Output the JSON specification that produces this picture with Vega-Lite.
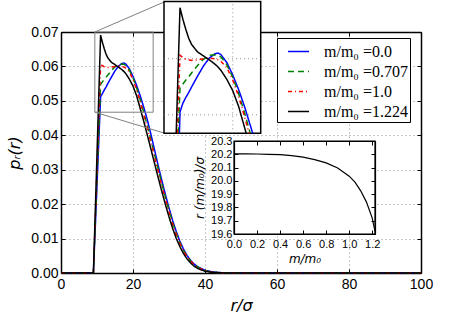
{
  "$schema": "https://vega.github.io/schema/vega-lite/v6.json",
  "width": 360,
  "height": 241,
  "autosize": "none",
  "padding": {"left": 61, "top": 32, "right": 48, "bottom": 40},
  "background": "white",
  "datasets": {
    "main": [
      {"r":0,"a":0,"b":0,"c":0,"d":0},
      {"r":9,"a":0,"b":0,"c":0,"d":0},
      {"r":10,"a":0.0256,"b":0.0274,"c":0.0303,"d":0.0346},
      {"r":11,"a":0.0512,"b":0.0548,"c":0.0606,"d":0.0691},
      {"r":11.5,"a":0.0521,"b":0.0555,"c":0.0602,"d":0.0670},
      {"r":12,"a":0.0531,"b":0.0562,"c":0.0599,"d":0.0652},
      {"r":12.5,"a":0.0540,"b":0.0568,"c":0.0598,"d":0.0636},
      {"r":13,"a":0.0550,"b":0.0575,"c":0.0597,"d":0.0625},
      {"r":14,"a":0.0569,"b":0.0588,"c":0.0598,"d":0.0612},
      {"r":15,"a":0.0587,"b":0.0599,"c":0.0600,"d":0.0605},
      {"r":16,"a":0.0601,"b":0.0606,"c":0.0601,"d":0.0598},
      {"r":17,"a":0.0609,"b":0.0607,"c":0.0600,"d":0.0590},
      {"r":17.5,"a":0.0610,"b":0.0606,"c":0.0598,"d":0.0585},
      {"r":18,"a":0.0607,"b":0.0603,"c":0.0595,"d":0.0579},
      {"r":19,"a":0.0593,"b":0.0589,"c":0.0584,"d":0.0563},
      {"r":20,"a":0.0571,"b":0.0567,"c":0.0562,"d":0.0543},
      {"r":21,"a":0.0545,"b":0.0538,"c":0.0533,"d":0.0515},
      {"r":22,"a":0.0515,"b":0.0504,"c":0.0497,"d":0.0478},
      {"r":23,"a":0.0481,"b":0.0466,"c":0.0459,"d":0.0440},
      {"r":24,"a":0.0444,"b":0.0427,"c":0.0420,"d":0.0400},
      {"r":25,"a":0.0402,"b":0.0386,"c":0.0379,"d":0.0359},
      {"r":26,"a":0.0357,"b":0.0344,"c":0.0337,"d":0.0318},
      {"r":27,"a":0.0312,"b":0.0302,"c":0.0295,"d":0.0277},
      {"r":28,"a":0.0269,"b":0.0260,"c":0.0254,"d":0.0237},
      {"r":29,"a":0.0228,"b":0.0220,"c":0.0214,"d":0.0199},
      {"r":30,"a":0.0189,"b":0.0182,"c":0.0177,"d":0.0163},
      {"r":31,"a":0.0153,"b":0.0147,"c":0.0142,"d":0.0130},
      {"r":32,"a":0.0121,"b":0.0116,"c":0.0112,"d":0.0101},
      {"r":33,"a":0.0093,"b":0.0089,"c":0.0086,"d":0.0077},
      {"r":34,"a":0.0070,"b":0.0067,"c":0.0065,"d":0.0057},
      {"r":35,"a":0.0051,"b":0.0049,"c":0.0047,"d":0.0041},
      {"r":36,"a":0.0037,"b":0.0035,"c":0.0034,"d":0.0029},
      {"r":37,"a":0.0026,"b":0.0025,"c":0.0024,"d":0.0020},
      {"r":38,"a":0.0018,"b":0.0017,"c":0.0016,"d":0.0013},
      {"r":40,"a":0.0008,"b":0.0007,"c":0.0007,"d":0.0005},
      {"r":42,"a":0.0003,"b":0.0003,"c":0.0002,"d":0.0002},
      {"r":45,"a":0.00005,"b":0.00004,"c":0.00003,"d":0.00003},
      {"r":50,"a":0,"b":0,"c":0,"d":0},
      {"r":100,"a":0,"b":0,"c":0,"d":0}
    ],
    "zoom": [
      {"m":"a","r":10.9,"p":0.0467},{"m":"a","r":11,"p":0.0505},{"m":"a","r":11.5,"p":0.0521},{"m":"a","r":12,"p":0.0531},{"m":"a","r":12.5,"p":0.0540},{"m":"a","r":13,"p":0.0550},{"m":"a","r":14,"p":0.0569},{"m":"a","r":15,"p":0.0587},{"m":"a","r":16,"p":0.0601},{"m":"a","r":17,"p":0.0609},{"m":"a","r":17.5,"p":0.0610},{"m":"a","r":18,"p":0.0607},{"m":"a","r":19,"p":0.0593},{"m":"a","r":20,"p":0.0571},{"m":"a","r":21,"p":0.0545},{"m":"a","r":22,"p":0.0515},{"m":"a","r":23,"p":0.0481},{"m":"a","r":23.4,"p":0.0467},
      {"m":"b","r":10.7,"p":0.0467},{"m":"b","r":11,"p":0.0548},{"m":"b","r":11.5,"p":0.0555},{"m":"b","r":12,"p":0.0562},{"m":"b","r":12.5,"p":0.0568},{"m":"b","r":13,"p":0.0575},{"m":"b","r":14,"p":0.0588},{"m":"b","r":15,"p":0.0599},{"m":"b","r":16,"p":0.0606},{"m":"b","r":17,"p":0.0607},{"m":"b","r":17.5,"p":0.0606},{"m":"b","r":18,"p":0.0603},{"m":"b","r":19,"p":0.0589},{"m":"b","r":20,"p":0.0567},{"m":"b","r":21,"p":0.0538},{"m":"b","r":22,"p":0.0504},{"m":"b","r":22.98,"p":0.0467},
      {"m":"c","r":10.54,"p":0.0467},{"m":"c","r":11,"p":0.0606},{"m":"c","r":11.5,"p":0.0602},{"m":"c","r":12,"p":0.0599},{"m":"c","r":12.5,"p":0.0598},{"m":"c","r":13,"p":0.0597},{"m":"c","r":14,"p":0.0598},{"m":"c","r":15,"p":0.0600},{"m":"c","r":16,"p":0.0601},{"m":"c","r":17,"p":0.0600},{"m":"c","r":17.5,"p":0.0598},{"m":"c","r":18,"p":0.0595},{"m":"c","r":19,"p":0.0584},{"m":"c","r":20,"p":0.0562},{"m":"c","r":21,"p":0.0533},{"m":"c","r":22,"p":0.0497},{"m":"c","r":22.79,"p":0.0467},
      {"m":"d","r":10.35,"p":0.0467},{"m":"d","r":11,"p":0.0691},{"m":"d","r":11.5,"p":0.0670},{"m":"d","r":12,"p":0.0652},{"m":"d","r":12.5,"p":0.0636},{"m":"d","r":13,"p":0.0625},{"m":"d","r":14,"p":0.0612},{"m":"d","r":15,"p":0.0605},{"m":"d","r":16,"p":0.0598},{"m":"d","r":17,"p":0.0590},{"m":"d","r":17.5,"p":0.0585},{"m":"d","r":18,"p":0.0579},{"m":"d","r":19,"p":0.0563},{"m":"d","r":20,"p":0.0543},{"m":"d","r":21,"p":0.0515},{"m":"d","r":22,"p":0.0478},{"m":"d","r":22.29,"p":0.0467}
    ],
    "shift": [
      {"m":0,"r":20.203},{"m":0.1,"r":20.203},{"m":0.2,"r":20.202},{"m":0.3,"r":20.2},{"m":0.4,"r":20.197},{"m":0.5,"r":20.19},{"m":0.6,"r":20.178},{"m":0.7,"r":20.16},{"m":0.8,"r":20.135},{"m":0.9,"r":20.097},{"m":1.0,"r":20.035},{"m":1.05,"r":19.99},{"m":1.1,"r":19.925},{"m":1.15,"r":19.84},{"m":1.2,"r":19.72},{"m":1.224,"r":19.62}
    ]
  },
  "config": {
    "view": {"stroke": null},
    "axis": {
      "domainColor": "black",
      "tickColor": "black",
      "labelColor": "black",
      "titleColor": "black",
      "gridColor": "#777777",
      "gridDash": [1, 3],
      "gridWidth": 0.8,
      "labelFont": "Liberation Sans",
      "titleFont": "DejaVu Sans",
      "titleFontWeight": "normal",
      "labelFlush": false,
      "labelOverlap": false
    },
    "legend": {
      "orient": "none",
      "legendX": 216,
      "legendY": 6,
      "direction": "vertical",
      "symbolType": "stroke",
      "symbolSize": 441,
      "symbolStrokeWidth": 1.5,
      "labelFont": "Liberation Serif",
      "labelFontSize": 16,
      "labelColor": "black",
      "padding": 2,
      "rowPadding": 0,
      "labelOffset": 14,
      "symbolOffset": 8,
      "strokeColor": "black",
      "fillColor": "white"
    }
  },
  "resolve": {
    "scale": {"x": "independent", "y": "independent"},
    "axis": {"x": "independent", "y": "independent"}
  },
  "layer": [
    {
      "data": {"values": [{}]},
      "mark": {"type": "point", "opacity": 0},
      "encoding": {
        "x": {"datum": 0, "type": "quantitative", "scale": {"domain": [0, 100], "nice": false},
          "axis": {"orient": "top", "values": [0, 20, 40, 60, 80, 100], "labels": false, "title": null, "grid": false, "tickSize": -4, "domainWidth": 1.5}},
        "y": {"datum": 0, "type": "quantitative", "scale": {"domain": [0, 0.07], "nice": false},
          "axis": {"orient": "right", "values": [0, 0.01, 0.02, 0.03, 0.04, 0.05, 0.06, 0.07], "labels": false, "title": null, "grid": false, "tickSize": -4, "domainWidth": 1.5}}
      }
    },
    {
      "data": {"name": "main"},
      "transform": [{"fold": ["a", "b", "c", "d"], "as": ["m", "p"]}],
      "mark": {"type": "line", "strokeWidth": 1.5},
      "encoding": {
        "x": {"field": "r", "type": "quantitative", "scale": {"domain": [0, 100], "nice": false},
          "axis": {"orient": "bottom", "values": [0, 20, 40, 60, 80, 100], "grid": true, "tickSize": -4, "labelPadding": 8, "labelFontSize": 14, "title": "r/σ", "titleFontSize": 16, "titleFontStyle": "italic", "titlePadding": 6, "domainWidth": 1.5}},
        "y": {"field": "p", "type": "quantitative", "scale": {"domain": [0, 0.07], "nice": false},
          "axis": {"orient": "left", "values": [0, 0.01, 0.02, 0.03, 0.04, 0.05, 0.06, 0.07], "format": ".2f", "grid": true, "tickSize": -4, "labelPadding": 7, "labelFontSize": 14, "title": "pᵣ(r)", "titleFontSize": 16, "titleFontStyle": "italic", "titlePadding": 8, "domainWidth": 1.5}},
        "color": {"field": "m", "type": "nominal", "scale": {"domain": ["a", "b", "c", "d"], "range": ["#0000ff", "#008000", "#ff0000", "#000000"]},
          "legend": {"title": null, "labelExpr": "datum.value == 'a' ? 'm/m₀ =0.0' : datum.value == 'b' ? 'm/m₀ =0.707' : datum.value == 'c' ? 'm/m₀ =1.0' : 'm/m₀ =1.224'"}},
        "strokeDash": {"field": "m", "type": "nominal", "scale": {"domain": ["a", "b", "c", "d"], "range": [[1, 0], [6, 4], [4, 3, 1, 3], [1, 0]]},
          "legend": {"title": null, "labelExpr": "datum.value == 'a' ? 'm/m₀ =0.0' : datum.value == 'b' ? 'm/m₀ =0.707' : datum.value == 'c' ? 'm/m₀ =1.0' : 'm/m₀ =1.224'"}}
      }
    },
    {
      "data": {"values": [{}]},
      "mark": {"type": "rect", "fillOpacity": 0, "stroke": "#808080", "strokeWidth": 1},
      "encoding": {
        "x": {"datum": 9.4, "type": "quantitative", "scale": {"domain": [0, 100], "nice": false}, "axis": null},
        "x2": {"datum": 25.6},
        "y": {"datum": 0.0467, "type": "quantitative", "scale": {"domain": [0, 0.07], "nice": false}, "axis": null},
        "y2": {"datum": 0.07}
      }
    },
    {
      "data": {"values": [{}]},
      "mark": {"type": "rule", "stroke": "#808080", "strokeWidth": 1},
      "encoding": {
        "x": {"datum": 9.4, "type": "quantitative", "scale": {"domain": [0, 100], "nice": false}, "axis": null},
        "x2": {"datum": 28.61},
        "y": {"datum": 0.07, "type": "quantitative", "scale": {"domain": [0, 0.07], "nice": false}, "axis": null},
        "y2": {"datum": 0.0787}
      }
    },
    {
      "data": {"values": [{}]},
      "mark": {"type": "rule", "stroke": "#808080", "strokeWidth": 1},
      "encoding": {
        "x": {"datum": 9.4, "type": "quantitative", "scale": {"domain": [0, 100], "nice": false}, "axis": null},
        "x2": {"datum": 28.61},
        "y": {"datum": 0.0467, "type": "quantitative", "scale": {"domain": [0, 0.07], "nice": false}, "axis": null},
        "y2": {"datum": 0.04066}
      }
    },
    {
      "data": {"values": [{}]},
      "mark": {"type": "rect", "fill": "white", "stroke": "black", "strokeWidth": 1.5},
      "encoding": {
        "x": {"datum": 8.27, "type": "quantitative", "scale": {"domain": [8.27, 24.77], "range": [103, 199.7], "nice": false, "zero": false}, "axis": null},
        "x2": {"datum": 24.77},
        "y": {"datum": 0.0467, "type": "quantitative", "scale": {"domain": [0.0467, 0.0702], "range": [101.3, -30.5], "nice": false, "zero": false}, "axis": null},
        "y2": {"datum": 0.0702}
      }
    },
    {
      "data": {"values": [{}]},
      "mark": {"type": "rule", "stroke": "#777777", "strokeDash": [1, 3], "strokeWidth": 0.8},
      "encoding": {
        "x": {"datum": 20, "type": "quantitative", "scale": {"domain": [8.27, 24.77], "range": [103, 199.7], "nice": false, "zero": false}, "axis": null},
        "y": {"datum": 0.0467, "type": "quantitative", "scale": {"domain": [0.0467, 0.0702], "range": [101.3, -30.5], "nice": false, "zero": false}, "axis": null},
        "y2": {"datum": 0.0702}
      }
    },
    {
      "data": {"values": [{}]},
      "mark": {"type": "rule", "stroke": "#777777", "strokeDash": [1, 3], "strokeWidth": 0.8},
      "encoding": {
        "x": {"datum": 8.27, "type": "quantitative", "scale": {"domain": [8.27, 24.77], "range": [103, 199.7], "nice": false, "zero": false}, "axis": null},
        "x2": {"datum": 24.77},
        "y": {"datum": 0.05, "type": "quantitative", "scale": {"domain": [0.0467, 0.0702], "range": [101.3, -30.5], "nice": false, "zero": false}, "axis": null}
      }
    },
    {
      "data": {"values": [{}]},
      "mark": {"type": "rule", "stroke": "#777777", "strokeDash": [1, 3], "strokeWidth": 0.8},
      "encoding": {
        "x": {"datum": 8.27, "type": "quantitative", "scale": {"domain": [8.27, 24.77], "range": [103, 199.7], "nice": false, "zero": false}, "axis": null},
        "x2": {"datum": 24.77},
        "y": {"datum": 0.06, "type": "quantitative", "scale": {"domain": [0.0467, 0.0702], "range": [101.3, -30.5], "nice": false, "zero": false}, "axis": null}
      }
    },
    {
      "data": {"name": "zoom"},
      "mark": {"type": "line", "strokeWidth": 1.5},
      "encoding": {
        "x": {"field": "r", "type": "quantitative", "scale": {"domain": [8.27, 24.77], "range": [103, 199.7], "nice": false, "zero": false}, "axis": null},
        "y": {"field": "p", "type": "quantitative", "scale": {"domain": [0.0467, 0.0702], "range": [101.3, -30.5], "nice": false, "zero": false}, "axis": null},
        "color": {"field": "m", "type": "nominal", "scale": {"domain": ["a", "b", "c", "d"], "range": ["#0000ff", "#008000", "#ff0000", "#000000"]},
          "legend": {"title": null, "labelExpr": "datum.value == 'a' ? 'm/m₀ =0.0' : datum.value == 'b' ? 'm/m₀ =0.707' : datum.value == 'c' ? 'm/m₀ =1.0' : 'm/m₀ =1.224'"}},
        "strokeDash": {"field": "m", "type": "nominal", "scale": {"domain": ["a", "b", "c", "d"], "range": [[1, 0], [6, 4], [4, 3, 1, 3], [1, 0]]},
          "legend": {"title": null, "labelExpr": "datum.value == 'a' ? 'm/m₀ =0.0' : datum.value == 'b' ? 'm/m₀ =0.707' : datum.value == 'c' ? 'm/m₀ =1.0' : 'm/m₀ =1.224'"}}
      }
    },
    {
      "data": {"values": [{}]},
      "mark": {"type": "rect", "fill": "white", "stroke": "black", "strokeWidth": 1.2},
      "encoding": {
        "x": {"datum": 0, "type": "quantitative", "scale": {"domain": [0, 1.224], "range": [173, 314], "nice": false, "zero": false}, "axis": null},
        "x2": {"datum": 1.224},
        "y": {"datum": 19.6, "type": "quantitative", "scale": {"domain": [19.6, 20.3], "range": [202, 109], "nice": false, "zero": false}, "axis": null},
        "y2": {"datum": 20.3}
      }
    },
    {
      "data": {"name": "shift"},
      "mark": {"type": "line", "color": "black", "strokeWidth": 1.2},
      "encoding": {
        "x": {"field": "m", "type": "quantitative", "scale": {"domain": [0, 1.224], "range": [173, 314], "nice": false, "zero": false},
          "axis": {"orient": "bottom", "offset": -39, "values": [0, 0.2, 0.4, 0.6, 0.8, 1.0, 1.2], "format": ".1f", "tickSize": -4, "labelPadding": 8, "labelFontSize": 11, "title": "m/m₀", "titleFontSize": 12, "titleFontStyle": "italic", "titlePadding": 4, "grid": false, "zindex": 1, "domainWidth": 1.2}},
        "y": {"field": "r", "type": "quantitative", "scale": {"domain": [19.6, 20.3], "range": [202, 109], "nice": false, "zero": false},
          "axis": {"orient": "left", "offset": -173, "values": [19.6, 19.7, 19.8, 19.9, 20.0, 20.1, 20.2, 20.3], "format": ".1f", "tickSize": -4, "labelPadding": 6, "labelFontSize": 11, "title": "r (m/m₀)/σ", "titleFontSize": 12, "titleFontStyle": "italic", "titlePadding": 4, "grid": false, "zindex": 1, "domainWidth": 1.2}}
      }
    },
    {
      "data": {"values": [{}]},
      "mark": {"type": "point", "opacity": 0},
      "encoding": {
        "x": {"datum": 0, "type": "quantitative", "scale": {"domain": [0, 1.224], "range": [173, 314], "nice": false, "zero": false},
          "axis": {"orient": "top", "offset": -109, "values": [0, 0.2, 0.4, 0.6, 0.8, 1.0, 1.2], "labels": false, "title": null, "grid": false, "tickSize": -4, "zindex": 1, "domainWidth": 1.2}},
        "y": {"datum": 19.6, "type": "quantitative", "scale": {"domain": [19.6, 20.3], "range": [202, 109], "nice": false, "zero": false},
          "axis": {"orient": "right", "offset": -46, "values": [19.6, 19.7, 19.8, 19.9, 20.0, 20.1, 20.2, 20.3], "labels": false, "title": null, "grid": false, "tickSize": -4, "zindex": 1, "domainWidth": 1.2}}
      }
    }
  ]
}
